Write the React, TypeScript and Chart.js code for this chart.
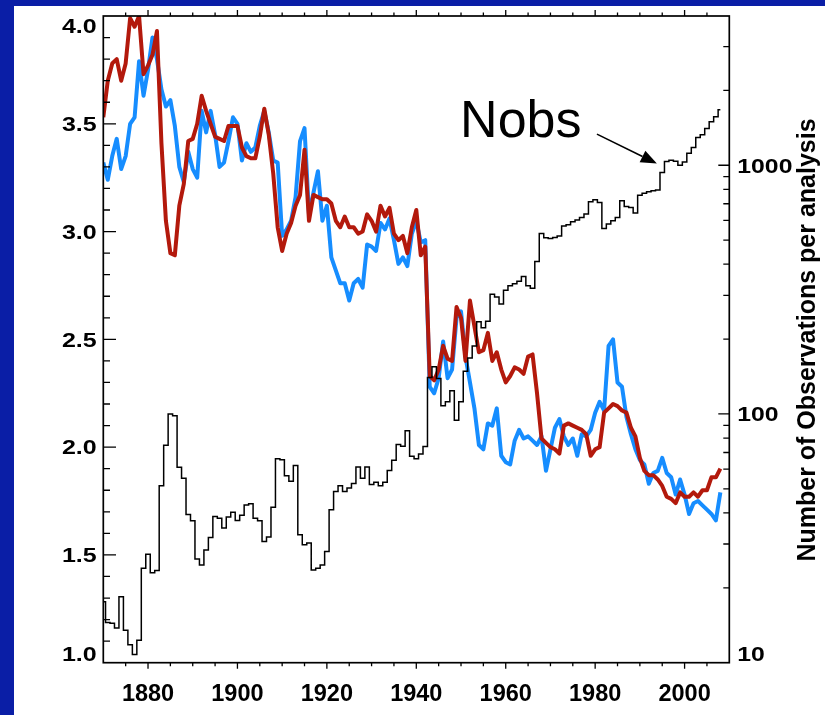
import React, { useEffect, useRef } from 'react';
import { Chart, registerables } from 'chart.js';

Chart.register(...registerables);

// ---------------- data ----------------
const START_YEAR = 1870;

const blueValues = [
  3.32, 3.24, 3.35, 3.43, 3.29, 3.35, 3.50, 3.53, 3.79, 3.63,
  3.75, 3.90, 3.80, 3.66, 3.58, 3.61, 3.49, 3.30, 3.23, 3.37,
  3.29, 3.25, 3.56, 3.46, 3.56, 3.45, 3.30, 3.32, 3.42, 3.53,
  3.50, 3.33, 3.41, 3.37, 3.39, 3.49, 3.56, 3.46, 3.33, 3.32,
  2.98, 3.01, 3.05, 3.16, 3.42, 3.48, 3.08, 3.18, 3.28, 3.05,
  3.12, 2.88, 2.82, 2.76, 2.76, 2.68, 2.76, 2.78, 2.74, 2.94,
  2.93, 2.91, 3.04, 3.01, 3.06, 2.96, 2.85, 2.88, 2.84, 2.99,
  3.05, 2.95, 2.96, 2.28, 2.25, 2.32, 2.49, 2.32, 2.36, 2.60,
  2.63, 2.42, 2.30, 2.18, 2.01, 1.99, 2.11, 2.10, 2.18, 1.96,
  1.93, 1.92, 2.03, 2.08, 2.04, 2.05, 2.03, 2.01, 2.05, 1.89,
  1.99, 2.09, 2.13, 2.05, 2.01, 2.04, 1.96, 2.06, 2.05, 2.08,
  2.16, 2.21, 2.17, 2.47, 2.50, 2.30, 2.28, 2.14, 2.06, 1.99,
  1.94, 1.92, 1.83, 1.88, 1.89, 1.95, 1.88, 1.86, 1.78, 1.85,
  1.78, 1.69, 1.74, 1.75, 1.73, 1.71, 1.69, 1.66, 1.79,
];

const redValues = [
  3.53, 3.70, 3.78, 3.80, 3.70, 3.78, 3.99, 3.95, 4.00, 3.73,
  3.77, 3.82, 3.93, 3.41, 3.05, 2.90, 2.89, 3.12, 3.22, 3.42,
  3.43, 3.50, 3.63, 3.56, 3.50, 3.44, 3.43, 3.42, 3.49, 3.49,
  3.49, 3.39, 3.35, 3.34, 3.34, 3.44, 3.57, 3.45, 3.27, 3.02,
  2.91, 2.99, 3.04, 3.12, 3.17, 3.38, 3.05, 3.17, 3.16, 3.15,
  3.15, 3.13, 3.05, 3.02, 3.07, 3.02, 3.02, 2.99, 3.00, 3.08,
  3.05, 3.00, 3.12, 3.07, 3.11, 2.99, 2.96, 2.98, 2.90, 3.02,
  3.10, 2.89, 2.93, 2.33, 2.31, 2.36, 2.47, 2.41, 2.40, 2.65,
  2.60, 2.40, 2.68, 2.56, 2.44, 2.45, 2.53, 2.40, 2.44, 2.36,
  2.30, 2.33, 2.37, 2.36, 2.34, 2.42, 2.43, 2.25, 2.04, 2.02,
  2.00, 1.99, 1.97, 2.10, 2.11, 2.10, 2.09, 2.08, 2.06, 1.96,
  1.99, 2.00, 2.16, 2.18, 2.20, 2.19, 2.17, 2.16, 2.09, 2.05,
  1.95, 1.89, 1.87, 1.87, 1.85, 1.82, 1.77, 1.76, 1.74, 1.79,
  1.77, 1.77, 1.79, 1.77, 1.80, 1.80, 1.86, 1.86, 1.90,
];

const nobsValues = [
  17.6, 14.5, 14.4, 13.8, 18.4, 13.5, 11.8, 10.8, 12.3, 24.0,
  27.3, 23.0, 23.5, 51.4, 74.8, 100, 98.4, 61.1, 55.2, 39.4,
  37.2, 26.1, 24.7, 28.4, 31.9, 38.7, 38.1, 34.8, 38.5, 40.3,
  37.3, 39.2, 43.1, 43.6, 38.1, 37.2, 30.7, 32.0, 42.2, 66.1,
  65.5, 56.5, 53.6, 62.1, 32.7, 29.8, 30.3, 23.6, 24.0, 24.7,
  28.0, 41.2, 48.8, 51.4, 48.8, 50.4, 52.5, 61.2, 55.2, 61.2,
  52.0, 53.1, 51.4, 53.1, 59.3, 65.1, 75.3, 74.1, 85.7, 67.6,
  66.0, 69.0, 74.0, 140, 155, 139, 108, 112, 124, 94.4,
  112, 148.6, 168, 187.5, 235, 222, 236, 303, 295, 277,
  314, 328, 334, 342, 357, 328, 320, 410, 532, 511,
  507, 512, 520, 570, 576, 592, 602, 616, 636, 713,
  726, 708, 557, 580, 598, 616, 719, 682, 676, 642,
  758, 772, 782, 789, 795, 935, 1036, 1048, 1038, 1000,
  1031, 1118, 1179, 1293, 1325, 1405, 1496, 1567, 1672,
];

const years = nobsValues.map((_, i) => START_YEAR + i);

const xTickLabels = [1880, 1900, 1920, 1940, 1960, 1980, 2000];
const leftTickLabels = [1.0, 1.5, 2.0, 2.5, 3.0, 3.5, 4.0];
const rightTickLabels = [10, 100, 1000];
const rightMinorTicks = [20, 30, 40, 50, 60, 70, 80, 90, 200, 300, 400, 500, 600, 700, 800, 900, 2000, 3000];

const X_MIN = 1870;
const X_MAX = 2010;
const Y_MIN = 1;
const Y_MAX = 4;
const Y2_MIN = 10;
const Y2_MAX = 3981;

const Y2_TITLE = 'Number of Observations per analysis';
const NOBS_LABEL = { text: 'Nobs', year: 1949.8, value: 1297 };
const ARROW = { fromYear: 1980.4, fromValue: 1334, toYear: 1993.8, toValue: 1016 };

const BG_BLUE = '#0a1ea6';
const BLUE = '#168dff';
const RED = '#b3190c';
const FONT = '"Liberation Sans", Arial, Helvetica, sans-serif';

// ---------------- decoration plugin ----------------
function drawScaledText(ctx: CanvasRenderingContext2D, text: string, x: number, y: number, sx: number, align: 'left' | 'right' | 'center') {
  ctx.save();
  ctx.translate(x, y);
  ctx.scale(sx, 1);
  ctx.textAlign = align;
  ctx.textBaseline = 'alphabetic';
  ctx.fillText(text, 0, 0);
  ctx.restore();
}

const decorPlugin = {
  id: 'decor',
  beforeDraw(chart: any) {
    const { ctx, width, height } = chart;
    ctx.save();
    ctx.fillStyle = BG_BLUE;
    ctx.fillRect(0, 0, width, height);
    ctx.fillStyle = '#ffffff';
    ctx.fillRect(14, 6, width - 14, height - 6);
    ctx.restore();
  },
  afterDraw(chart: any) {
    const { ctx, chartArea: a, scales } = chart;
    const xs = scales.x;
    const ys = scales.y;
    const y2 = scales.y2;
    ctx.save();
    ctx.strokeStyle = '#000';
    ctx.fillStyle = '#000';

    // frame
    ctx.lineWidth = 1.7;
    ctx.strokeRect(a.left, a.top, a.right - a.left, a.bottom - a.top);

    // x ticks (outward, top and bottom)
    ctx.lineWidth = 1.3;
    ctx.beginPath();
    for (let yr = X_MIN + 5; yr < X_MAX; yr += 5) {
      const px = xs.getPixelForValue(yr);
      const len = yr % 20 === 0 ? 6 : 3.5;
      ctx.moveTo(px, a.bottom);
      ctx.lineTo(px, a.bottom + len);
      ctx.moveTo(px, a.top);
      ctx.lineTo(px, a.top - len);
    }
    // left ticks (inward)
    for (let i = 11; i < 40; i++) {
      const py = ys.getPixelForValue(i / 10);
      const len = i % 5 === 0 ? 12.7 : 6.7;
      ctx.moveTo(a.left, py);
      ctx.lineTo(a.left + len, py);
    }
    // right log ticks (inward)
    rightTickLabels.forEach((v) => {
      const py = y2.getPixelForValue(v);
      if (py > a.bottom - 1) return;
      ctx.moveTo(a.right, py);
      ctx.lineTo(a.right - 11, py);
    });
    rightMinorTicks.forEach((v) => {
      const py = y2.getPixelForValue(v);
      ctx.moveTo(a.right, py);
      ctx.lineTo(a.right - 6, py);
    });
    ctx.stroke();

    // x labels
    ctx.font = `bold 23.5px ${FONT}`;
    xTickLabels.forEach((v) => {
      drawScaledText(ctx, String(v), xs.getPixelForValue(v), 701, 1, 'center');
    });

    // left labels
    ctx.font = `bold 20px ${FONT}`;
    leftTickLabels.forEach((v) => {
      let cy = ys.getPixelForValue(v);
      if (v === Y_MAX) cy += 9.3;
      if (v === Y_MIN) cy -= 8.7;
      drawScaledText(ctx, v.toFixed(1), a.left - 6.6, cy + 7.2, 1.25, 'right');
    });

    // right labels
    ctx.font = `bold 21px ${FONT}`;
    rightTickLabels.forEach((v) => {
      let cy = y2.getPixelForValue(v);
      if (v === Y2_MIN) cy -= 9.5;
      drawScaledText(ctx, String(v), a.right + 8, cy + 7.5, 1.18, 'left');
    });

    // right axis title
    ctx.save();
    ctx.font = `bold 25px ${FONT}`;
    ctx.translate(815, 340);
    ctx.rotate(-Math.PI / 2);
    ctx.textAlign = 'center';
    ctx.textBaseline = 'alphabetic';
    ctx.fillText(Y2_TITLE, 0, 0);
    ctx.restore();

    // Nobs annotation
    ctx.font = `52px ${FONT}`;
    ctx.textAlign = 'left';
    ctx.textBaseline = 'alphabetic';
    ctx.fillText(NOBS_LABEL.text, xs.getPixelForValue(NOBS_LABEL.year), y2.getPixelForValue(NOBS_LABEL.value));

    // arrow
    const x1 = xs.getPixelForValue(ARROW.fromYear);
    const y1 = y2.getPixelForValue(ARROW.fromValue);
    const x2 = xs.getPixelForValue(ARROW.toYear);
    const yy2 = y2.getPixelForValue(ARROW.toValue);
    const ang = Math.atan2(yy2 - y1, x2 - x1);
    const headLen = 16;
    const headHalf = 6.5;
    const bx = x2 - headLen * Math.cos(ang);
    const by = yy2 - headLen * Math.sin(ang);
    ctx.lineWidth = 1.6;
    ctx.beginPath();
    ctx.moveTo(x1, y1);
    ctx.lineTo(bx, by);
    ctx.stroke();
    ctx.beginPath();
    ctx.moveTo(x2, yy2);
    ctx.lineTo(bx + headHalf * Math.sin(ang), by - headHalf * Math.cos(ang));
    ctx.lineTo(bx - headHalf * Math.sin(ang), by + headHalf * Math.cos(ang));
    ctx.closePath();
    ctx.fill();

    ctx.restore();
  },
};

// ---------------- component ----------------
export default function App() {
  const canvasRef = useRef<HTMLCanvasElement | null>(null);

  useEffect(() => {
    const canvas = canvasRef.current;
    if (!canvas) return;
    const toPoints = (vals: number[]) => vals.map((v, i) => ({ x: years[i], y: v }));

    const hiddenAxis = {
      grid: { display: false, drawTicks: false },
      border: { display: false },
      ticks: { display: false },
    };

    const chart = new Chart(canvas, {
      type: 'line',
      data: {
        datasets: [
          {
            label: 'Nobs',
            data: toPoints(nobsValues),
            yAxisID: 'y2',
            borderColor: '#000000',
            borderWidth: 1.5,
            stepped: 'middle',
            pointRadius: 0,
            fill: false,
          },
          {
            label: 'red',
            data: toPoints(redValues),
            yAxisID: 'y',
            borderColor: RED,
            borderWidth: 4,
            borderJoinStyle: 'round',
            tension: 0,
            pointRadius: 0,
            fill: false,
          },
          {
            label: 'blue',
            data: toPoints(blueValues),
            yAxisID: 'y',
            borderColor: BLUE,
            borderWidth: 4,
            borderJoinStyle: 'round',
            tension: 0,
            pointRadius: 0,
            fill: false,
          },
        ],
      } as any,
      options: {
        responsive: false,
        animation: false,
        devicePixelRatio: 1,
        layout: { padding: { top: 16, left: 0, right: 0, bottom: 0 } },
        plugins: { legend: { display: false }, tooltip: { enabled: false } },
        scales: {
          x: {
            type: 'linear',
            min: X_MIN,
            max: X_MAX,
            ...hiddenAxis,
            afterFit: (s: any) => { s.height = 52.3; },
          },
          y: {
            type: 'linear',
            position: 'left',
            min: Y_MIN,
            max: Y_MAX,
            ...hiddenAxis,
            afterFit: (s: any) => { s.width = 103.3; },
          },
          y2: {
            type: 'logarithmic',
            position: 'right',
            min: Y2_MIN,
            max: Y2_MAX,
            ...hiddenAxis,
            afterFit: (s: any) => { s.width = 95.7; },
          },
        },
      } as any,
      plugins: [decorPlugin],
    });

    return () => chart.destroy();
  }, []);

  return (
    <div style={{ position: 'fixed', left: 0, top: 0, width: 825, height: 715, background: BG_BLUE }}>
      <canvas ref={canvasRef} width={825} height={715} style={{ display: 'block', width: 825, height: 715 }} />
    </div>
  );
}
